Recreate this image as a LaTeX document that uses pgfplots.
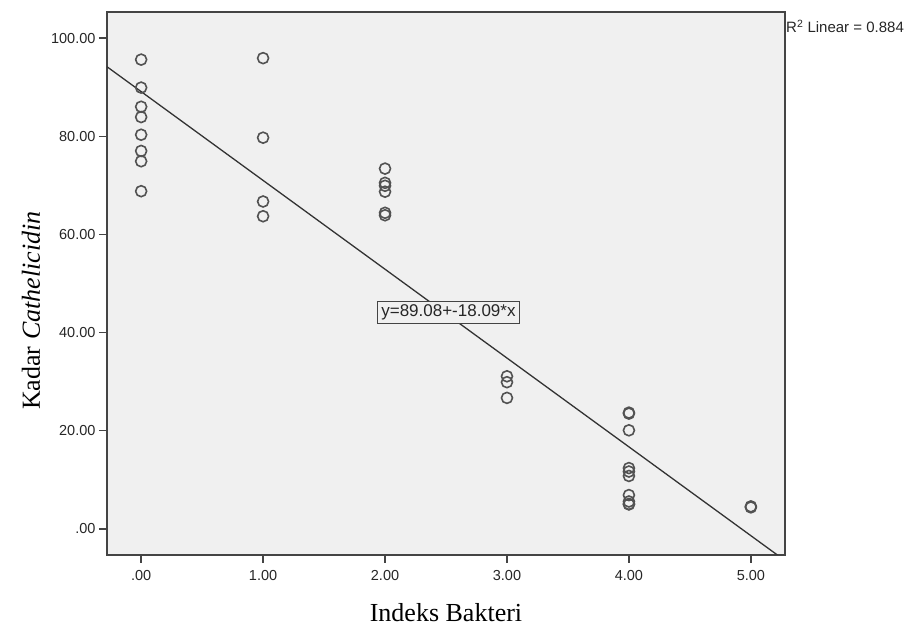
\documentclass[border=0pt]{standalone}
\usepackage{fontspec}
\setmainfont{Liberation Serif}
\newfontfamily\arial{Liberation Sans}
\usepackage{pgfplots}
\pgfplotsset{compat=1.18}
\definecolor{bg}{HTML}{F0F0F0}
\definecolor{ink}{HTML}{444444}

\begin{document}
\begin{tikzpicture}
\begin{axis}[
    scale only axis,
    width=678pt, height=543pt,
    xmin=-0.28, xmax=5.28,
    ymin=-5.3, ymax=105.3,
    axis background/.style={fill=bg},
    axis line style={draw=ink, line width=1.4pt},
    xtick={0,1,2,3,4,5},
    xticklabels={.00,1.00,2.00,3.00,4.00,5.00},
    ytick={0,20,40,60,80,100},
    yticklabels={.00,20.00,40.00,60.00,80.00,100.00},
    tick align=outside, tick pos=left,
    major tick length=8pt,
    tick style={draw=ink, line width=1.4pt},
    ticklabel style={font=\arial\fontsize{14.5}{16}\selectfont, text=black!85},
    xticklabel style={yshift=-4pt},
    xlabel={Indeks Bakteri},
    ylabel={Kadar \textit{Cathelicidin}},
    label style={font=\fontsize{26}{30}\selectfont},
    xlabel style={yshift=-16pt},
    every axis y label/.append style={at={(ticklabel cs:0.45)}, yshift=4pt},
]
% fit line y = 89.08 - 18.09x
\addplot[draw=black!80, line width=1.3pt] coordinates {(-0.28,94.15) (5.28,-6.43)};
\addplot[only marks, mark=o, mark size=5.5pt, draw=black!68, mark options={line width=1.6pt}] coordinates {
    (0,95.6) (0,89.9) (0,86.0) (0,83.9) (0,80.3) (0,77.0) (0,74.9) (0,68.8)
    (1,95.9) (1,79.7) (1,66.7) (1,63.7)
    (2,73.4) (2,70.5) (2,69.9) (2,68.7) (2,64.4) (2,63.9)
    (3,31.1) (3,29.9) (3,26.7)
    (4,23.7) (4,23.5) (4,20.1) (4,12.4) (4,11.7) (4,10.8) (4,6.9) (4,5.6) (4,5.1) (4,5.0)
    (5,4.6) (5,4.4)
};
\node[draw=ink, line width=1pt, fill=bg, inner sep=3.5pt,
      font=\arial\fontsize{17}{19}\selectfont, text=black!85]
      at (axis cs:2.52,44.1) {y=89.08+-18.09*x};
\end{axis}
\node[anchor=north west, inner sep=0pt, font=\arial\fontsize{15}{17}\selectfont, text=black!85]
      at ([xshift=1pt,yshift=-8pt]current axis.north east) {R\textsuperscript{2} Linear = 0.884};
\pgfresetboundingbox
\path[use as bounding box] ([shift={(-107pt,-73pt)}]current axis.south west) rectangle ++(909pt,628pt);
\end{tikzpicture}
\end{document}
